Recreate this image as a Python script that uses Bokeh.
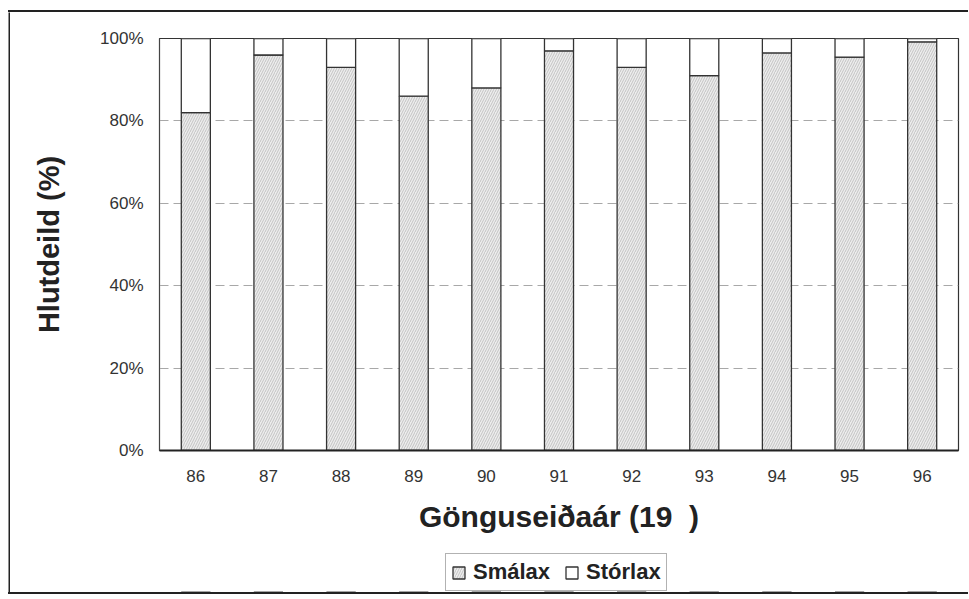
from bokeh.plotting import figure
from bokeh.models import (FactorRange, Legend, LegendItem, PrintfTickFormatter,
                          FixedTicker, ColumnDataSource, Range1d, Spacer)
from bokeh.layouts import column, row
from bokeh.embed import file_html
from bokeh.resources import INLINE

years = ["86", "87", "88", "89", "90", "91", "92", "93", "94", "95", "96"]
smalax = [82, 96, 93, 86, 88, 97, 93, 91, 96.5, 95.5, 99.2]
storlax = [100 - s for s in smalax]
y_ticks = [0, 20, 40, 60, 80, 100]
x_title = "Gönguseiðaár (19\u00a0\u00a0)"
y_title = "Hlutdeild (%)"
series_names = ["Smálax", "Stórlax"]

src = ColumnDataSource(dict(
    year=years,
    smalax=smalax,
    storlax=storlax,
    total=[a + b for a, b in zip(smalax, storlax)],
))

FONT = "Liberation Sans"
SMA_STYLE = dict(fill_color="#ededed", line_color="#333", line_width=1.3,
                 hatch_pattern="right_diagonal_line", hatch_color="#b8b8b8",
                 hatch_scale=5, hatch_weight=0.8)
STO_STYLE = dict(fill_color="white", line_color="#333", line_width=1.3)

# ---------------- main chart ----------------
p = figure(x_range=FactorRange(*years, range_padding=0),
           y_range=Range1d(0, 100),
           width=958, height=525,
           output_backend="svg", toolbar_location=None,
           min_border_left=149, min_border_right=10,
           min_border_top=26, min_border_bottom=87)

p.vbar(x="year", bottom=0, top="smalax", width=0.4, source=src, **SMA_STYLE)
p.vbar(x="year", bottom="smalax", top="total", width=0.4, source=src, **STO_STYLE)

p.outline_line_color = "#333"
p.outline_line_width = 1.2

p.xgrid.grid_line_color = None
p.ygrid.grid_line_color = "#a8a8a8"
p.ygrid.grid_line_dash = "9 5"
p.ygrid.grid_line_width = 1

p.yaxis.ticker = FixedTicker(ticks=y_ticks)
p.yaxis.formatter = PrintfTickFormatter(format="%d%%")
p.yaxis.axis_label = y_title
p.yaxis.axis_label_text_font = FONT
p.yaxis.axis_label_text_font_size = "29px"
p.yaxis.axis_label_text_font_style = "bold"
p.yaxis.axis_label_text_color = "#222"
p.yaxis.axis_label_standoff = 32
p.yaxis.major_label_text_font = FONT
p.yaxis.major_label_text_font_size = "17px"
p.yaxis.major_label_text_color = "#333"
p.yaxis.major_label_standoff = 16
p.yaxis.major_tick_out = 0
p.yaxis.major_tick_in = 0
p.yaxis.minor_tick_line_color = None
p.yaxis.axis_line_color = "#444"

p.xaxis.axis_label = x_title
p.xaxis.axis_label_text_font = FONT
p.xaxis.axis_label_text_font_size = "30px"
p.xaxis.axis_label_text_font_style = "bold"
p.xaxis.axis_label_text_color = "#222"
p.xaxis.axis_label_standoff = 15
p.xaxis.major_label_text_font = FONT
p.xaxis.major_label_text_font_size = "17px"
p.xaxis.major_label_text_color = "#333"
p.xaxis.major_label_standoff = 19
p.xaxis.major_tick_out = 0
p.xaxis.major_tick_in = 0
p.xaxis.axis_line_color = "#222"
p.xaxis.axis_line_width = 2

# ---------------- legend strip (same data, kept out of view) ----------------
p2 = figure(width=958, height=55, output_backend="svg", toolbar_location=None,
            x_axis_type=None, y_axis_type=None, min_border=0,
            outline_line_color=None,
            x_range=FactorRange(*years, range_padding=0),
            y_range=Range1d(101, 102))
p2.xgrid.grid_line_color = None
p2.ygrid.grid_line_color = None
g1 = p2.vbar(x="year", bottom=0, top="smalax", width=0.4, source=src, **SMA_STYLE)
g2 = p2.vbar(x="year", bottom="smalax", top="total", width=0.4, source=src, **STO_STYLE)
legend = Legend(items=[LegendItem(label=series_names[0], renderers=[g1]),
                       LegendItem(label=series_names[1], renderers=[g2])],
                orientation="horizontal", location=(286, 1),
                label_text_font=FONT, label_text_font_size="22px",
                label_text_font_style="bold", label_text_color="#222",
                glyph_width=15, glyph_height=15, label_standoff=7,
                spacing=14, padding=5, margin=0,
                border_line_color="#666", border_line_width=1)
p2.add_layout(legend, "center")


# ---------------- outer frame ----------------
def frame_bar(w, h):
    f = figure(width=w, height=h, output_backend="svg", toolbar_location=None,
               x_axis_type=None, y_axis_type=None, min_border=0,
               border_fill_color="#222", background_fill_color="#222",
               outline_line_color=None)
    return f


def hline(w, h):
    return Spacer(width=w, height=h, styles={"background-color": "#222"})


layout = column(
    Spacer(height=10),
    row(Spacer(width=8),
        column(hline(960, 2),
               row(frame_bar(2, 580), column(p, p2)),
               hline(960, 2))),
)

open("out.html", "w").write(file_html(layout, INLINE))
